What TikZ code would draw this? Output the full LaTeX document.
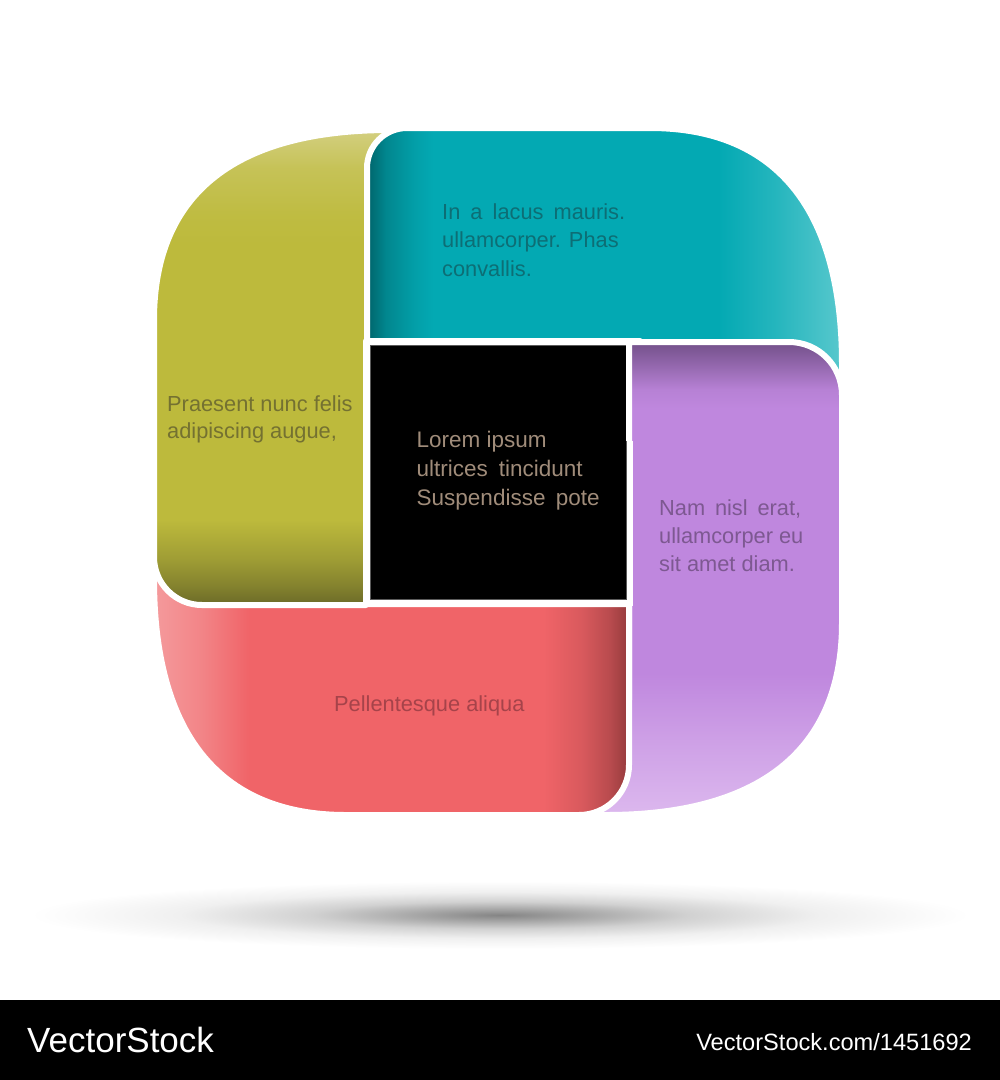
\documentclass[tikz,border=0pt]{standalone}
\usepackage{fontspec}
\setmainfont{Liberation Sans}
% panel colours
\definecolor{tealdark}{HTML}{00646A}
\definecolor{tealmain}{HTML}{03A9B3}
\definecolor{teallight}{HTML}{58C8CD}
\definecolor{olivelight}{HTML}{D3CF80}
\definecolor{olivemain}{HTML}{BDBA3C}
\definecolor{olivedark}{HTML}{6B6A28}
\definecolor{purpledark}{HTML}{725089}
\definecolor{purpledkb}{HTML}{9468AE}
\definecolor{purplemain}{HTML}{BF87DE}
\definecolor{purplelight}{HTML}{DCB8EE}
\definecolor{redlight}{HTML}{F49A9C}
\definecolor{redmain}{HTML}{F06468}
\definecolor{reddark}{HTML}{933A3C}
% text colours
\definecolor{tealtxt}{HTML}{0D6E75}
\definecolor{olivetxt}{HTML}{747131}
\definecolor{purpletxt}{HTML}{7D5891}
\definecolor{redtxt}{HTML}{A6434A}
\definecolor{blacktxt}{HTML}{A08C7A}
\definecolor{boxline}{HTML}{5A5A5A}
\pgfdeclarehorizontalshading{tealsh}{100bp}{color(0bp)=(tealdark); color(25bp)=(tealdark); color(27bp)=(tealdark!50!tealmain); color(30bp)=(tealmain!85!tealdark); color(32bp)=(tealmain); color(62bp)=(tealmain); color(68bp)=(tealmain!60!teallight); color(75bp)=(teallight); color(100bp)=(teallight)}
\pgfdeclareverticalshading{olivesh}{100bp}{color(0bp)=(olivedark); color(25bp)=(olivedark); color(27bp)=(olivemain!30!olivedark); color(30bp)=(olivemain!65!olivedark); color(34bp)=(olivemain); color(63bp)=(olivemain); color(66bp)=(olivemain!92!olivelight); color(71bp)=(olivemain!60!olivelight); color(75bp)=(olivelight); color(100bp)=(olivelight)}
\pgfdeclareverticalshading{purplesh}{100bp}{color(0bp)=(purplelight); color(25bp)=(purplelight); color(33bp)=(purplemain!50!purplelight); color(40bp)=(purplemain); color(68bp)=(purplemain); color(70bp)=(purplemain!80!purpledkb); color(72.5bp)=(purpledkb); color(75bp)=(purpledark); color(100bp)=(purpledark)}
\pgfdeclarehorizontalshading{redsh}{100bp}{color(0bp)=(redlight); color(25bp)=(redlight); color(30bp)=(redlight!60!redmain); color(35bp)=(redmain); color(66bp)=(redmain); color(70bp)=(redmain!75!reddark); color(73bp)=(redmain!40!reddark); color(75bp)=(reddark); color(100bp)=(reddark)}
\pgfdeclareradialshading{shadowsh}{\pgfpoint{0bp}{0bp}}{color(0bp)=(black!48); color(4bp)=(black!36); color(10bp)=(black!18); color(17bp)=(black!6); color(25bp)=(white); color(50bp)=(white)}
\tikzset{
  panel/.style={draw=white, line width=6pt, line join=round},
  txt/.style={anchor=base west, inner sep=0pt, font=\fontsize{21.8}{26}\selectfont},
  btxt/.style={anchor=base west, inner sep=0pt, font=\fontsize{22.5}{27}\selectfont, text=blacktxt},
}
\begin{document}
\begin{tikzpicture}[x=1pt, y=-1pt]
\useasboundingbox (0,0) rectangle (1000,1080);
\fill[white] (0,0) rectangle (1000,1080);
% floor shadow
\shade[shading=shadowsh] (500,915) ellipse [x radius=470, y radius=34];
% purple (bottom of the pinwheel)
\shadedraw[shading=purplesh, panel] (629,342) -- (789,342) .. controls (818.3,342) and (842,365.7) .. (842,395) -- (842,623) .. controls (842,753) and (756,815) .. (606,815) -- (560,815) -- (560,700) -- (629,700) -- cycle;
% red
\shadedraw[shading=redsh, panel] (154,540) -- (260,540) -- (260,604) -- (629,604) -- (629,765) .. controls (629,792.6) and (606.6,815) .. (579,815) -- (346,815) .. controls (216,815) and (154,729) .. (154,579) -- cycle;
% olive
\shadedraw[shading=olivesh, panel] (154,320) .. controls (154,190) and (240,130) .. (390,130) -- (425,130) -- (425,341) -- (366,341) -- (366,605) -- (202,605) .. controls (175.5,605) and (154,583.5) .. (154,557) -- cycle;
% teal
\shadedraw[shading=tealsh, panel] (367,168) .. controls (367,145.9) and (384.9,128) .. (407,128) -- (650,128) .. controls (780,128) and (842,214) .. (842,364) -- (842,395) -- (640,395) -- (640,341) -- (367,341) -- cycle;
% black centre square
\path[fill=black, draw=white, line width=6pt] (367,342) rectangle (630,603);
\draw[boxline, line width=1.2pt] (370.5,345.5) rectangle (626.5,599.5);
% purple corner laid over teal
\begin{scope}
\clip (615,325) rectangle (870,440);
\shadedraw[shading=purplesh, panel] (629,342) -- (789,342) .. controls (818.3,342) and (842,365.7) .. (842,395) -- (842,623) .. controls (842,753) and (756,815) .. (606,815) -- (560,815) -- (560,700) -- (629,700) -- cycle;
\end{scope}
% texts
\node[txt, text=tealtxt] (ta) at (442,219) {\makebox[183pt][s]{In a lacus mauris.}};
\node[txt, text=tealtxt] (tb) at (442,247.5) {ullamcorper. Phas};
\node[txt, text=tealtxt] (tc) at (442,276) {convallis.};
\node[txt, text=olivetxt] (oa) at (167,411.5) {Praesent nunc felis};
\node[txt, text=olivetxt] (ob) at (167,438.5) {adipiscing augue,};
\node[btxt] (ka) at (416.5,447.5) {Lorem ipsum};
\node[btxt] (kb) at (416.5,476.5) {\makebox[166pt][s]{ultrices tincidunt}};
\node[btxt] (kc) at (416.5,505) {\makebox[183pt][s]{Suspendisse pote}};
\node[txt, text=purpletxt] (pa) at (659,515) {\makebox[142pt][s]{Nam nisl erat,}};
\node[txt, text=purpletxt] (pb) at (659,543) {ullamcorper eu};
\node[txt, text=purpletxt] (pc) at (659,571) {sit amet diam.};
\node[txt, text=redtxt] (ra) at (334,711) {Pellentesque aliqua};
% watermark bar
\fill[black] (0,1000) rectangle (1000,1080);
\node[anchor=base west, inner sep=0pt, text=white, font=\fontsize{35}{40}\selectfont] (wm) at (27,1052) {VectorStock};
\node[anchor=base east, inner sep=0pt, text=white, font=\fontsize{23.6}{28}\selectfont] (wu) at (972,1050) {VectorStock.com/1451692};
\end{tikzpicture}
\end{document}
